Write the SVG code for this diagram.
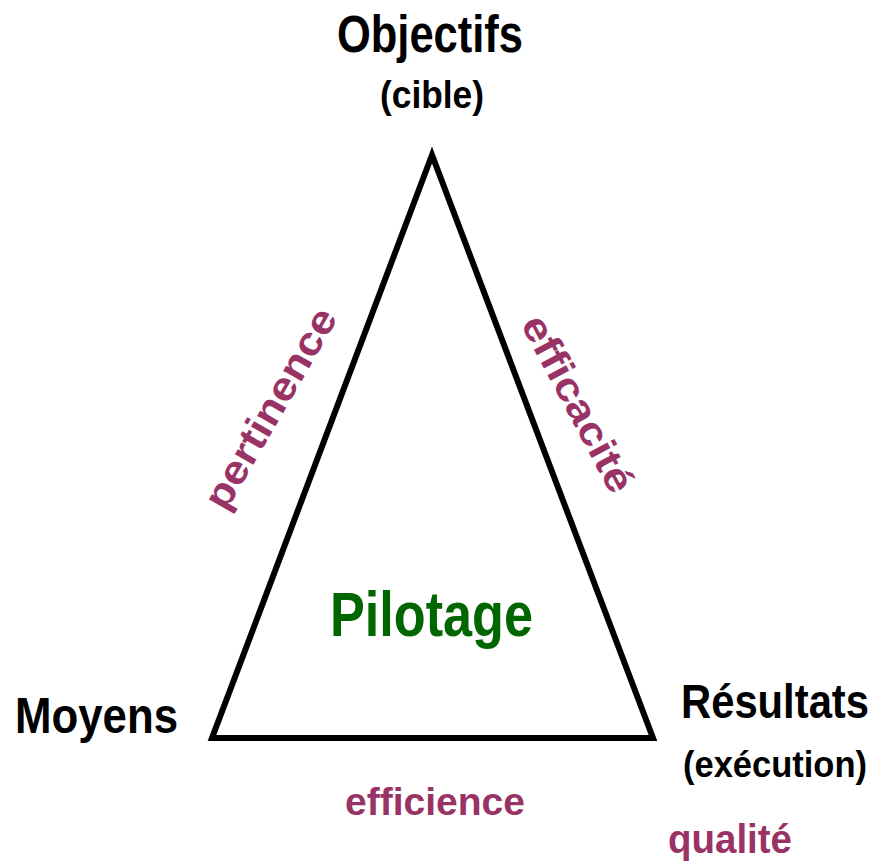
<svg xmlns="http://www.w3.org/2000/svg" width="882" height="863" viewBox="0 0 882 863">
<style>
text{font-family:"Liberation Sans",Arial,sans-serif;font-weight:bold}
.k{fill:#000}
.p{fill:#993366}
.g{fill:#006600}
</style>
<rect width="882" height="863" fill="#fff"/>
<g id="connectors">
<polygon points="432,155 212,738 653,738" fill="none" stroke="#000" stroke-width="6" stroke-linejoin="miter" stroke-miterlimit="20"/>
</g>
<g id="objectifs">
<text class="k" x="337" y="52" font-size="51" textLength="186" lengthAdjust="spacingAndGlyphs">Objectifs</text>
<text class="k" x="380" y="108" font-size="38" textLength="104" lengthAdjust="spacingAndGlyphs">(cible)</text>
</g>
<g id="moyens">
<text class="k" x="15" y="733" font-size="50" textLength="163" lengthAdjust="spacingAndGlyphs">Moyens</text>
</g>
<g id="resultats">
<text class="k" transform="translate(681,718) scale(1,1.1)" font-size="44" textLength="188" lengthAdjust="spacingAndGlyphs">Résultats</text>
<text class="k" x="683" y="777" font-size="37" textLength="184" lengthAdjust="spacingAndGlyphs">(exécution)</text>
</g>
<g id="pilotage">
<text class="g" x="330" y="636" font-size="63" textLength="203" lengthAdjust="spacingAndGlyphs">Pilotage</text>
</g>
<g id="labels">
<text class="p" transform="translate(282,415) rotate(-60)" text-anchor="middle" font-size="40" textLength="225" lengthAdjust="spacingAndGlyphs">pertinence</text>
<text class="p" transform="translate(566,410) rotate(62)" text-anchor="middle" font-size="40" textLength="195" lengthAdjust="spacingAndGlyphs">efficacité</text>
<text class="p" x="345" y="815" font-size="39" textLength="180" lengthAdjust="spacingAndGlyphs">efficience</text>
<text class="p" x="668" y="853" font-size="40" textLength="124" lengthAdjust="spacingAndGlyphs">qualité</text>
</g>
</svg>
